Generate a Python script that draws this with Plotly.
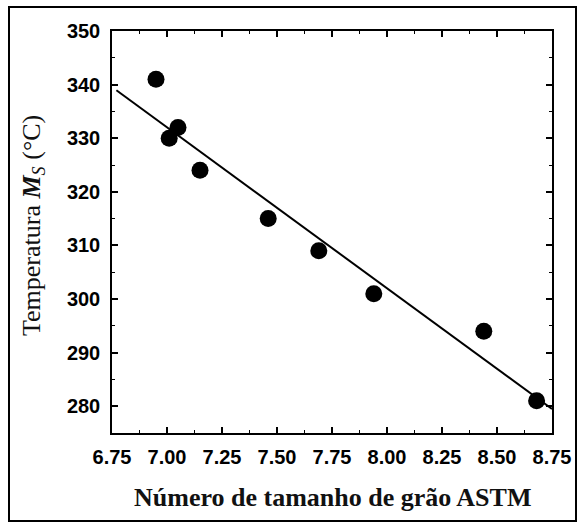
import numpy as np
import plotly.graph_objects as go

# Data
grain_size = [6.95, 7.01, 7.05, 7.15, 7.46, 7.69, 7.94, 8.44, 8.68]
ms_temp = [341, 330, 332, 324, 315, 309, 301, 294, 281]
fit_range = [6.77, 8.75]

x_title = "Número de tamanho de grão ASTM"
y_title = "Temperatura <b><i>M</i></b><sub><i>S</i></sub> (°C)"

W, H = 584, 527
L, R, T, B = 112, 32, 31, 94
pw, ph = W - L - R, H - T - B

slope, intercept = np.polyfit(grain_size, ms_temp, 1)
fx = np.array(fit_range)
fy = slope * fx + intercept

fig = go.Figure()
fig.add_trace(go.Scatter(x=fx, y=fy, mode="lines",
                         line=dict(color="black", width=2), showlegend=False,
                         cliponaxis=True))
fig.add_trace(go.Scatter(x=grain_size, y=ms_temp, mode="markers",
                         marker=dict(color="black", size=17, line=dict(width=0)),
                         showlegend=False, cliponaxis=False))

tickfont = dict(family="Liberation Sans, Arial", size=20, color="black", weight="bold")
axis_common = dict(showline=True, linecolor="black", linewidth=1.5, mirror="allticks",
                   ticks="inside", ticklen=6, tickwidth=1.5, tickcolor="black",
                   showgrid=False, zeroline=False, tickfont=tickfont)

fig.update_xaxes(range=[6.75, 8.75], dtick=0.25, tick0=6.75, tickformat=".2f",
                 minor=dict(dtick=0.125, ticks="inside", ticklen=3, tickcolor="black", tickwidth=1),
                 ticklabelstandoff=5, **axis_common)
fig.update_yaxes(range=[275, 350], dtick=10, tick0=280,
                 minor=dict(dtick=5, ticks="inside", ticklen=3, tickcolor="black", tickwidth=1),
                 ticklabelstandoff=6, **axis_common)

def px_x(x):
    return (x - L) / pw

def px_y(y):
    return (H - B - y) / ph

fig.add_annotation(text="<b>" + x_title + "</b>", xref="paper", yref="paper",
                   x=px_x(332), y=px_y(497), showarrow=False,
                   font=dict(family="Liberation Serif, Times New Roman", size=26, color="#111111"),
                   xanchor="center", yanchor="middle")
fig.add_annotation(text=y_title, xref="paper", yref="paper",
                   x=px_x(33), y=px_y(226), showarrow=False, textangle=-90,
                   font=dict(family="Liberation Serif, Times New Roman", size=26, color="#111111"),
                   xanchor="center", yanchor="middle")

fig.add_shape(type="rect", xref="paper", yref="paper",
              x0=px_x(9), x1=px_x(576), y0=px_y(521), y1=px_y(7),
              line=dict(color="black", width=2), fillcolor="rgba(0,0,0,0)", layer="above")

fig.update_layout(width=W, height=H, margin=dict(l=L, r=R, t=T, b=B),
                  paper_bgcolor="white", plot_bgcolor="white")

fig.write_html("out.html")
